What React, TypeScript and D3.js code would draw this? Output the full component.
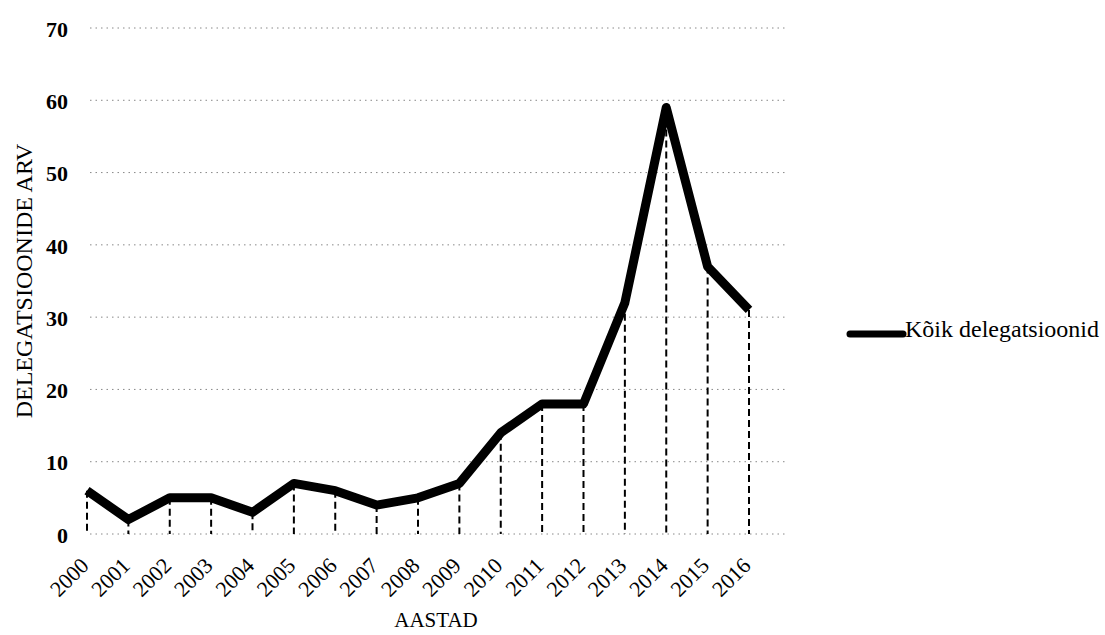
import React from "react";
import * as d3 from "d3";

const years = ["2000","2001","2002","2003","2004","2005","2006","2007","2008","2009","2010","2011","2012","2013","2014","2015","2016"];
const values = [6, 2, 5, 5, 3, 7, 6, 4, 5, 7, 14, 18, 18, 32, 59, 37, 31];
const yTicks = [0, 10, 20, 30, 40, 50, 60, 70];
const seriesName = "Kõik delegatsioonid";
const xTitle = "AASTAD";
const yTitle = "DELEGATSIOONIDE ARV";

export default function App() {
  const W = 1105, H = 635;
  const x = d3.scalePoint<string>().domain(years).range([87, 749]);
  const y = d3.scaleLinear().domain([0, 70]).range([534, 28]);
  const line = d3.line<number>().x((_, i) => x(years[i])!).y(d => y(d));
  const font = "'Liberation Serif', 'Times New Roman', serif";
  return (
    <svg width={W} height={H} style={{ position: "absolute", left: 0, top: 0, background: "#fff" }} fontFamily={font}>
      {yTicks.map(t => (
        <g key={t}>
          <line x1={90} x2={788} y1={y(t)} y2={y(t)} stroke="#888" strokeWidth={1} strokeDasharray="1.5,4" />
          <text x={68} y={y(t) + 1} dy="0.35em" textAnchor="end" fontSize={22} fontWeight="bold">{t}</text>
        </g>
      ))}
      {values.map((v, i) => (
        <line key={i} x1={x(years[i])} x2={x(years[i])} y1={y(v)} y2={y(0)} stroke="#000" strokeWidth={2} strokeDasharray="7,4" />
      ))}
      <path d={line(values)!} fill="none" stroke="#000" strokeWidth={9} strokeLinejoin="round" />
      {years.map(yr => (
        <text key={yr} transform={`translate(${x(yr)! + 3},${567}) rotate(-45)`} textAnchor="end" fontSize={22}>{yr}</text>
      ))}
      <text x={436} y={627} textAnchor="middle" fontSize={21}>{xTitle}</text>
      <text transform={`translate(32,281) rotate(-90)`} textAnchor="middle" fontSize={24}>{yTitle}</text>
      <line x1={850} x2={903} y1={334} y2={334} stroke="#000" strokeWidth={7} strokeLinecap="round" />
      <text x={905} y={337} fontSize={24}>{seriesName}</text>
    </svg>
  );
}
